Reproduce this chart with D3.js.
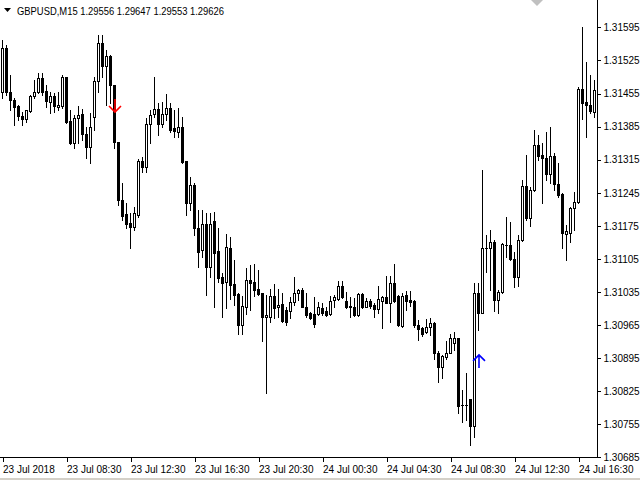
<!DOCTYPE html>
<html><head><meta charset="utf-8">
<script src="https://cdn.jsdelivr.net/npm/d3@7"></script>
<style>html,body{margin:0;padding:0;background:#fff;} svg{display:block;}</style>
</head><body>
<svg id="c" width="640" height="480"></svg>
<script>
const symbolTitle = "GBPUSD,M15";
const headerValues = ["1.29556", "1.29647", "1.29553", "1.29626"];

const openP = [1.31458,1.31551,1.31458,1.31441,1.31429,1.31408,1.31401,1.31418,1.31450,1.31458,
1.31488,1.31460,1.31437,1.31450,1.31427,1.31429,1.31490,1.31397,1.31350,1.31403,
1.31412,1.31369,1.31342,1.31405,1.31482,1.31562,1.31513,1.31534,1.31473,1.31353,
1.31230,1.31200,1.31181,1.31173,1.31198,1.31312,1.31300,1.31391,1.31412,1.31422,
1.31391,1.31412,1.31424,1.31382,1.31374,1.31384,1.31312,1.31224,1.31262,1.31171,
1.31124,1.31179,1.31088,1.31185,1.31122,1.31067,1.31056,1.31128,1.31052,1.31031,
1.30965,1.31003,1.31061,1.31056,1.31042,1.31033,1.30982,1.30982,1.31027,1.31003,
1.31010,1.30997,1.30995,1.31014,1.31033,1.31039,1.31003,1.30991,1.30989,1.30989,
1.31001,1.30995,1.30989,1.31018,1.31020,1.31048,1.31016,1.31006,1.31003,1.30986,
1.31031,1.31003,1.31016,1.31008,1.30999,1.31016,1.31025,1.31012,1.31054,1.31027,
1.30963,1.31029,1.31018,1.31016,1.30965,1.30959,1.30950,1.30961,1.30970,1.30906,
1.30876,1.30898,1.30906,1.30927,1.30938,1.30796,1.30796,1.30809,1.30752,1.31033,
1.30991,1.31128,1.31128,1.31141,1.31018,1.31035,1.31135,1.31135,1.31105,1.31067,
1.31145,1.31259,1.31192,1.31251,1.31346,1.31325,1.31319,1.31285,1.31323,1.31264,
1.31243,1.31158,1.31160,1.31213,1.31226,1.31465,1.31437,1.31431,1.31416];

const highP = [1.31568,1.31558,1.31494,1.31446,1.31431,1.31416,1.31420,1.31452,1.31484,1.31499,
1.31499,1.31473,1.31458,1.31456,1.31458,1.31494,1.31490,1.31420,1.31410,1.31429,
1.31422,1.31384,1.31414,1.31490,1.31579,1.31579,1.31547,1.31537,1.31473,1.31353,
1.31266,1.31224,1.31202,1.31215,1.31317,1.31321,1.31403,1.31420,1.31490,1.31435,
1.31437,1.31454,1.31435,1.31420,1.31424,1.31405,1.31312,1.31278,1.31266,1.31209,
1.31209,1.31202,1.31202,1.31204,1.31171,1.31075,1.31158,1.31152,1.31103,1.31033,
1.31027,1.31086,1.31092,1.31094,1.31082,1.31033,1.31029,1.31042,1.31052,1.31042,
1.31033,1.31003,1.31025,1.31067,1.31042,1.31044,1.31033,1.30993,1.31025,1.31014,
1.31012,1.31003,1.31027,1.31029,1.31058,1.31058,1.31035,1.31025,1.31022,1.31033,
1.31033,1.31022,1.31020,1.31012,1.31048,1.31027,1.31069,1.31069,1.31094,1.31029,
1.31033,1.31037,1.31037,1.31018,1.30976,1.30961,1.30978,1.30980,1.30972,1.30910,
1.30902,1.30931,1.30946,1.30950,1.30938,1.30828,1.30864,1.30809,1.31054,1.31054,
1.31293,1.31156,1.31166,1.31145,1.31039,1.31139,1.31194,1.31183,1.31120,1.31156,
1.31272,1.31325,1.31257,1.31378,1.31367,1.31350,1.31374,1.31384,1.31329,1.31308,
1.31245,1.31177,1.31215,1.31247,1.31469,1.31596,1.31522,1.31494,1.31484];

const lowP = [1.31446,1.31452,1.31420,1.31389,1.31399,1.31389,1.31395,1.31416,1.31446,1.31456,
1.31452,1.31427,1.31414,1.31416,1.31420,1.31424,1.31393,1.31348,1.31340,1.31350,
1.31357,1.31319,1.31308,1.31378,1.31458,1.31490,1.31431,1.31435,1.31340,1.31219,
1.31188,1.31171,1.31128,1.31166,1.31194,1.31289,1.31289,1.31350,1.31405,1.31367,
1.31384,1.31399,1.31374,1.31363,1.31363,1.31308,1.31198,1.31209,1.31156,1.31088,
1.31109,1.31029,1.31067,1.31003,1.31056,1.30982,1.31001,1.31020,1.31008,1.30946,
1.30946,1.30989,1.30997,1.31027,1.31029,1.30931,1.30821,1.30972,1.30980,1.30982,
1.30972,1.30965,1.30980,1.31008,1.31018,1.31003,1.30982,1.30978,1.30961,1.30986,
1.30986,1.30984,1.30986,1.31003,1.31018,1.31022,1.31001,1.30982,1.30984,1.30984,
1.31001,1.31003,1.31001,1.30982,1.30991,1.30959,1.31012,1.30972,1.31014,1.30963,
1.30961,1.30997,1.31006,1.30961,1.30934,1.30942,1.30948,1.30944,1.30893,1.30845,
1.30853,1.30893,1.30906,1.30912,1.30779,1.30760,1.30764,1.30711,1.30728,1.30955,
1.30991,1.31077,1.31039,1.30995,1.30991,1.31033,1.31109,1.31103,1.31046,1.31048,
1.31143,1.31188,1.31175,1.31249,1.31314,1.31224,1.31272,1.31266,1.31251,1.31236,
1.31128,1.31103,1.31141,1.31166,1.31224,1.31401,1.31363,1.31414,1.31405];

const closeP = [1.31551,1.31458,1.31441,1.31427,1.31408,1.31401,1.31420,1.31450,1.31458,1.31488,
1.31458,1.31439,1.31450,1.31429,1.31431,1.31490,1.31395,1.31350,1.31403,1.31410,
1.31369,1.31342,1.31384,1.31482,1.31562,1.31513,1.31534,1.31473,1.31353,1.31230,
1.31196,1.31179,1.31173,1.31202,1.31312,1.31300,1.31391,1.31410,1.31422,1.31391,
1.31412,1.31424,1.31378,1.31376,1.31384,1.31310,1.31224,1.31262,1.31171,1.31120,
1.31179,1.31088,1.31179,1.31118,1.31065,1.31054,1.31130,1.31050,1.31029,1.30965,
1.31006,1.31061,1.31054,1.31039,1.31031,1.30982,1.30986,1.31027,1.31001,1.31008,
1.30974,1.30972,1.31014,1.31033,1.31039,1.31003,1.30986,1.30980,1.30967,1.31003,
1.30991,1.30986,1.31016,1.31025,1.31048,1.31025,1.31003,1.31003,1.30986,1.31031,
1.31003,1.31016,1.31006,1.30999,1.31020,1.31025,1.31012,1.31054,1.31016,1.30965,
1.31027,1.31016,1.31014,1.30965,1.30957,1.30946,1.30961,1.30970,1.30906,1.30876,
1.30900,1.30906,1.30938,1.30938,1.30794,1.30796,1.30796,1.30752,1.31033,1.30991,
1.31128,1.31128,1.31141,1.31018,1.31035,1.31137,1.31135,1.31105,1.31067,1.31145,
1.31259,1.31192,1.31251,1.31346,1.31323,1.31319,1.31285,1.31323,1.31264,1.31240,
1.31160,1.31164,1.31213,1.31226,1.31465,1.31435,1.31431,1.31418,1.31463];

const priceTicks = [1.31595,1.31525,1.31455,1.31385,1.31315,1.31245,1.31175,1.31105,1.31035,1.30965,1.30895,1.30825,1.30755,1.30685];
const timeTickIndex = [0,16,32,48,64,80,96,112,128,144];
const timeTickLabels = ["23 Jul 2018","23 Jul 08:30","23 Jul 12:30","23 Jul 16:30","23 Jul 20:30","24 Jul 00:30","24 Jul 04:30","24 Jul 08:30","24 Jul 12:30","24 Jul 16:30"];
const sellSignals = [{index: 28, price: 1.31416}];
const buySignals = [{index: 119, price: 1.30902}];

const svg = d3.select("#c");
const W = 640, H = 480;
const plotRight = 597, plotBottom = 457;
const font = "'Liberation Sans', Arial, sans-serif";

const bars = openP.map((o, i) => ({i, o, h: highP[i], l: lowP[i], c: closeP[i]}));

const x = d3.scaleLinear().domain([0, bars.length - 1]).range([2, 2 + 4 * (bars.length - 1)]);
const y = d3.scaleLinear().domain([1.306839, 1.31653]).range([458, 0]);

svg.append("rect").attr("width", W).attr("height", H).attr("fill", "#fff");

const g = svg.append("g").attr("shape-rendering", "crispEdges");

// candles
const cg = g.selectAll("g.candle").data(bars).join("g").attr("class", "candle");
cg.append("rect")
  .attr("x", d => x(d.i))
  .attr("y", d => Math.round(y(d.h)))
  .attr("width", 1)
  .attr("height", d => Math.max(1, Math.round(y(d.l)) - Math.round(y(d.h)) + 1))
  .attr("fill", "#000");
cg.append("rect")
  .attr("x", d => x(d.i) - 1)
  .attr("y", d => Math.round(Math.min(y(d.o), y(d.c))))
  .attr("width", 3)
  .attr("height", d => Math.abs(Math.round(y(d.o)) - Math.round(y(d.c))) + 1)
  .attr("fill", "#000");
cg.filter(d => d.c > d.o && Math.abs(Math.round(y(d.o)) - Math.round(y(d.c))) >= 2)
  .append("rect")
  .attr("x", d => x(d.i))
  .attr("y", d => Math.round(y(d.c)) + 1)
  .attr("width", 1)
  .attr("height", d => Math.round(y(d.o)) - Math.round(y(d.c)) - 1)
  .attr("fill", "#fff");

// signal arrows
const arrowG = svg.append("g").attr("fill", "none").attr("stroke-width", 1.6).attr("stroke-linecap", "butt");
sellSignals.forEach(s => {
  const ax = x(s.index) + 1, ay = y(s.price);
  arrowG.append("path")
    .attr("d", `M${ax},${ay - 13}L${ax},${ay} M${ax - 6},${ay - 6}L${ax},${ay}L${ax + 6},${ay - 6}`)
    .attr("stroke", "#ff0000");
});
buySignals.forEach(s => {
  const ax = x(s.index) + 1, ay = y(s.price);
  arrowG.append("path")
    .attr("d", `M${ax},${ay + 13}L${ax},${ay} M${ax - 6},${ay + 6}L${ax},${ay}L${ax + 6},${ay + 6}`)
    .attr("stroke", "#0000ff");
});

// axes lines
g.append("line").attr("x1", plotRight + 0.5).attr("x2", plotRight + 0.5).attr("y1", 0).attr("y2", plotBottom + 1).attr("stroke", "#000");
g.append("line").attr("x1", 0).attr("x2", plotRight + 1).attr("y1", plotBottom + 0.5).attr("y2", plotBottom + 0.5).attr("stroke", "#000");

// price axis
const yAxis = d3.axisRight(y).tickValues(priceTicks).tickFormat(d3.format(".5f")).tickSize(3).tickPadding(3).tickSizeOuter(0);
const ya = svg.append("g").attr("transform", `translate(${plotRight + 0.5},0)`).call(yAxis);
ya.select(".domain").remove();
ya.selectAll("line").attr("stroke", "#000").attr("shape-rendering", "crispEdges");
ya.selectAll("text").attr("font-family", font).attr("font-size", 10).attr("fill", "#000");

// time axis
const xAxis = d3.axisBottom(x).tickValues(timeTickIndex).tickFormat((d, k) => timeTickLabels[k]).tickSize(4).tickPadding(2).tickSizeOuter(0);
const xa = svg.append("g").attr("transform", `translate(0.5,${plotBottom + 0.5})`).call(xAxis);
xa.select(".domain").remove();
xa.selectAll("line").attr("stroke", "#000").attr("shape-rendering", "crispEdges");
xa.selectAll("text").attr("font-family", font).attr("font-size", 10).attr("fill", "#000")
  .attr("text-anchor", "start").attr("x", 0).attr("y", 8).attr("dy", "0.71em");

// bottom grey strip
svg.append("rect").attr("x", 0).attr("y", 478).attr("width", W).attr("height", 2).attr("fill", "#d4d0c8");

// shift marker
svg.append("path").attr("d", "M531,0L543,0L537,6Z").attr("fill", "#c0c0c0");

// header
svg.append("path").attr("d", "M4,8L11,8L7.5,12Z").attr("fill", "#000");
svg.append("text").attr("x", 17).attr("y", 15).attr("font-family", font).attr("font-size", 11).attr("fill", "#000")
  .attr("textLength", 207).attr("lengthAdjust", "spacingAndGlyphs")
  .text(symbolTitle + "  " + headerValues.join(" "));
</script>
</body></html>
